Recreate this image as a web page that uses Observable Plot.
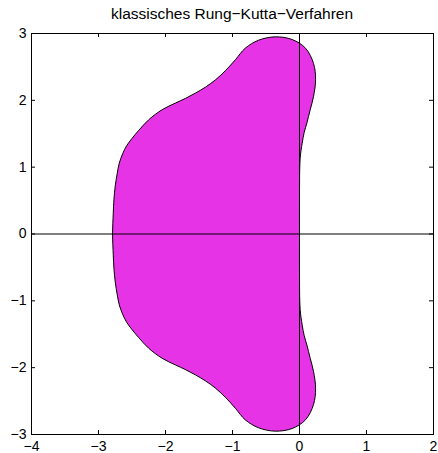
<!DOCTYPE html>
<html>
<head>
<meta charset="utf-8">
<script src="https://cdn.jsdelivr.net/npm/d3@7"></script>
<script src="https://cdn.jsdelivr.net/npm/@observablehq/plot@0.6"></script>
<style>
  body { margin: 0; background: #fff; }
  #chart { position: relative; width: 438px; height: 453px; }
  #title { position: absolute; top: 5px; left: 31px; width: 402px; text-align: center;
           font-family: "Liberation Sans", Arial, sans-serif; font-size: 15.5px; color: #000; white-space: nowrap; }
</style>
</head>
<body>
<div id="chart"><div id="title"></div></div>
<script>
// Boundary of the stability region, closed curve
const boundaryRe = [
  0.00, 0.00, 0.01, 0.04, 0.07, 0.11, 0.16, 0.21, 0.24, 0.21, 0.09, -0.11, -0.36, -0.61,
  -0.81, -0.955, -1.10, -1.25, -1.40, -1.55, -1.70, -1.85, -2.05, -2.25, -2.40, -2.50, -2.58,
  -2.64, -2.69, -2.72, -2.75, -2.77, -2.78, -2.79,
  -2.78, -2.77, -2.75, -2.72, -2.69, -2.64, -2.58, -2.50, -2.40, -2.25, -2.05, -1.85, -1.70,
  -1.55, -1.40, -1.25, -1.10, -0.955, -0.81, -0.61, -0.36, -0.11, 0.09, 0.21, 0.24, 0.21,
  0.16, 0.11, 0.07, 0.04, 0.01, 0.00
];
const boundaryIm = [
  0.00, 0.60, 1.13, 1.36, 1.52, 1.66, 1.86, 2.06, 2.31, 2.55, 2.78, 2.91, 2.95, 2.90,
  2.78, 2.61, 2.45, 2.31, 2.20, 2.11, 2.03, 1.96, 1.86, 1.71, 1.55, 1.43, 1.32,
  1.20, 1.06, 0.91, 0.72, 0.51, 0.30, 0.00,
  -0.30, -0.51, -0.72, -0.91, -1.06, -1.20, -1.32, -1.43, -1.55, -1.71, -1.86, -1.96, -2.03,
  -2.11, -2.20, -2.31, -2.45, -2.61, -2.78, -2.90, -2.95, -2.91, -2.78, -2.55, -2.31, -2.06,
  -1.86, -1.66, -1.52, -1.36, -1.13, -0.60
];
const xTicks = [-4, -3, -2, -1, 0, 1, 2];
const yTicks = [-3, -2, -1, 0, 1, 2, 3];
const titleText = "klassisches Rung−Kutta−Verfahren";

const region = boundaryRe.map((re, i) => ({re, im: boundaryIm[i]}));
const fmt = d => d < 0 ? "−" + Math.abs(d) : String(d);

const W = 438, H = 453;
const mL = 31, mR = 5, mT = 33, mB = 19;
const fw = W - mL - mR, fh = H - mT - mB;
const tk = 4;

const chart = Plot.plot({
  width: W, height: H,
  marginLeft: mL, marginRight: mR, marginTop: mT, marginBottom: mB,
  style: {fontFamily: "'Liberation Sans', Arial, sans-serif", fontSize: "14px", background: "#fff", color: "#000"},
  x: {domain: [-4, 2], ticks: xTicks, label: null},
  y: {domain: [-3, 3], ticks: yTicks, label: null},
  marks: [
    Plot.line(region, {x: "re", y: "im", curve: "catmull-rom-closed", fill: "#e633e6", stroke: "#000", strokeWidth: 1}),
    Plot.ruleX([0], {stroke: "#000", strokeWidth: 1}),
    Plot.ruleY([0], {stroke: "#000", strokeWidth: 1}),
    Plot.tickX(xTicks, {x: d => d, insetTop: fh - tk, stroke: "#000"}),
    Plot.tickX(xTicks, {x: d => d, insetBottom: fh - tk, stroke: "#000"}),
    Plot.tickY(yTicks, {y: d => d, insetRight: fw - tk, stroke: "#000"}),
    Plot.tickY(yTicks, {y: d => d, insetLeft: fw - tk, stroke: "#000"}),
    Plot.axisX(xTicks, {anchor: "bottom", tickSize: 0, tickPadding: 7, tickFormat: fmt, fontSize: 14, label: null}),
    Plot.axisY(yTicks, {anchor: "left", tickSize: 0, tickPadding: 5, tickFormat: fmt, fontSize: 14, label: null}),
    Plot.frame({stroke: "#000", strokeWidth: 1})
  ]
});
document.getElementById("chart").appendChild(chart);
document.getElementById("title").textContent = titleText;
</script>
</body>
</html>
